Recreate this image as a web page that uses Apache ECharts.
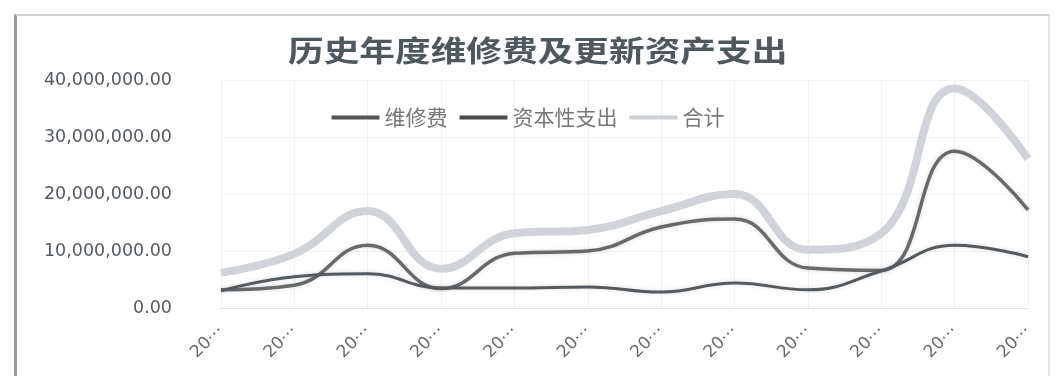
<!DOCTYPE html>
<html>
<head>
<meta charset="utf-8">
<script src="https://cdn.jsdelivr.net/npm/echarts@6/dist/echarts.min.js"></script>
<style>
  html, body { margin: 0; padding: 0; background: #fff; }
  #frame {
    position: absolute; left: 14px; top: 14px; width: 1036px; height: 370px;
    border-left: 3px solid #9a9a9a; border-top: 2px solid #d0d0d0; border-right: 2px solid #e2e2e2;
    box-sizing: border-box;
  }
  #chart { position: absolute; left: 0; top: 0; width: 1056px; height: 376px; }
</style>
</head>
<body>
<div id="frame"></div>
<div id="chart"></div>
<script>
// 年份（标签在原图中被截断为 "20…"）
const years = ['2011', '2012', '2013', '2014', '2015', '2016', '2017', '2018', '2019', '2020', '2021', '2022'];
const repairCost = [3.0, 5.5, 6.0, 3.5, 3.5, 3.7, 2.8, 4.4, 3.2, 6.5, 11.0, 9.0].map(v => v * 1e6);
const capitalSpend = [3.2, 4.0, 11.0, 3.4, 9.6, 10.0, 14.2, 15.6, 7.0, 6.6, 27.5, 17.2].map(v => v * 1e6);
const totalSpend = [6.2, 9.5, 17.0, 6.9, 13.1, 13.7, 17.0, 20.0, 10.2, 13.1, 38.5, 26.2].map(v => v * 1e6);
const yTicks = [0, 10000000, 20000000, 30000000, 40000000];

const fmt = v => v.toFixed(2).replace(/\B(?=(\d{3})+(?!\d))/g, ',');

const chart = echarts.init(document.getElementById('chart'));
chart.setOption({
  animation: false,
  graphic: [{
    type: 'text',
    left: 288,
    top: 36,
    scaleX: 1.23,
    originX: 0,
    style: {
      text: '历史年度维修费及更新资产支出',
      font: 'bold 29px "Noto Sans CJK SC"',
      fill: '#4f585c'
    }
  }],
  legend: {
    top: 102,
    left: 'center',
    itemGap: 12,
    itemWidth: 48,
    itemHeight: 4,
    icon: 'rect',
    textStyle: { fontSize: 21, color: '#777', fontFamily: 'Noto Sans CJK SC' },
    data: ['维修费', '资本性支出', '合计']
  },
  grid: { left: 221, right: 28, top: 80, bottom: 68 },
  xAxis: {
    type: 'category',
    data: years,
    boundaryGap: false,
    axisLine: { lineStyle: { color: '#e4e4e4' } },
    axisTick: { show: false },
    splitLine: { show: true, lineStyle: { color: '#f0f0f0' } },
    axisLabel: {
      rotate: 45,
      margin: 20,
      fontSize: 17,
      color: '#6a6a6a',
      fontFamily: 'DejaVu Sans',
      formatter: v => v.slice(0, 2) + '⋯'
    }
  },
  yAxis: {
    type: 'value',
    min: yTicks[0],
    max: yTicks[yTicks.length - 1],
    interval: 10000000,
    axisLine: { show: false },
    axisTick: { show: false },
    splitLine: { lineStyle: { color: '#f2f2f2' } },
    axisLabel: {
      margin: 49,
      fontSize: 17.5,
      color: '#555b60',
      fontFamily: 'DejaVu Sans',
      formatter: fmt
    }
  },
  series: [
    {
      name: '合计',
      type: 'line',
      smooth: 0.45,
      symbol: 'none',
      data: totalSpend,
      itemStyle: { color: '#cdd0d4' },
      lineStyle: { color: '#d0d3d7', width: 8 },
      z: 1
    },
    {
      name: '资本性支出',
      type: 'line',
      smooth: 0.45,
      symbol: 'none',
      data: capitalSpend,
      itemStyle: { color: '#4a4a4a' },
      lineStyle: { color: '#666a6d', width: 3.5, shadowColor: 'rgba(0,0,0,0.15)', shadowBlur: 4 },
      z: 2
    },
    {
      name: '维修费',
      type: 'line',
      smooth: 0.45,
      symbol: 'none',
      data: repairCost,
      itemStyle: { color: '#555' },
      lineStyle: { color: '#555a5e', width: 3, shadowColor: 'rgba(0,0,0,0.15)', shadowBlur: 4 },
      z: 3
    }
  ]
});
</script>
</body>
</html>
